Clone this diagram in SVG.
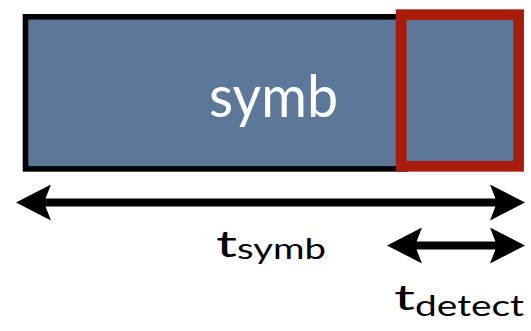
<svg xmlns="http://www.w3.org/2000/svg" width="531" height="331" viewBox="0 0 531 331">
  <style>
    .lbl { font-family: Lato, "Open Sans", "DejaVu Sans", sans-serif; fill: #000; }
    .conn { stroke: #000; stroke-width: 8; fill: none; marker-start: url(#head); marker-end: url(#head); }
  </style>
  <defs>
    <marker id="head" markerUnits="userSpaceOnUse" viewBox="-7 -18 35 36" markerWidth="35" markerHeight="36" refX="0" refY="0" orient="auto-start-reverse">
      <path d="M-7,-18 L28,0 L-7,18 L0,0 Z" fill="#000"/>
    </marker>
  </defs>
  <rect width="531" height="331" fill="#fff"/>
  <g id="symbol">
    <rect x="25.5" y="16.8" width="380" height="152.1" fill="#5c7797" stroke="#000" stroke-width="5.6"/>
    <text x="209" y="116.7" font-family="Lato, 'Open Sans', sans-serif" font-size="58" fill="#fff" textLength="129" lengthAdjust="spacingAndGlyphs">symb</text>
  </g>
  <g id="detect-window">
    <rect x="401.1" y="14.7" width="117.5" height="151.6" fill="#5c7797" stroke="#a81c0c" stroke-width="10.7"/>
  </g>
  <g id="connectors">
    <line class="conn" x1="44" y1="202.5" x2="497" y2="202.5"/>
    <line class="conn" x1="415" y1="245.5" x2="497" y2="245.5"/>
  </g>
  <g id="t-symb-label">
    <text class="lbl" y="257"><tspan x="216" font-size="36" textLength="21" lengthAdjust="spacingAndGlyphs">t</tspan><tspan x="237" y="259" font-size="28" textLength="89" lengthAdjust="spacingAndGlyphs">symb</tspan></text>
  </g>
  <g id="t-detect-label">
    <text class="lbl" y="310"><tspan x="394" font-size="34" textLength="21" lengthAdjust="spacingAndGlyphs">t</tspan><tspan x="415" y="316" font-size="28" textLength="109" lengthAdjust="spacingAndGlyphs">detect</tspan></text>
  </g>
</svg>
